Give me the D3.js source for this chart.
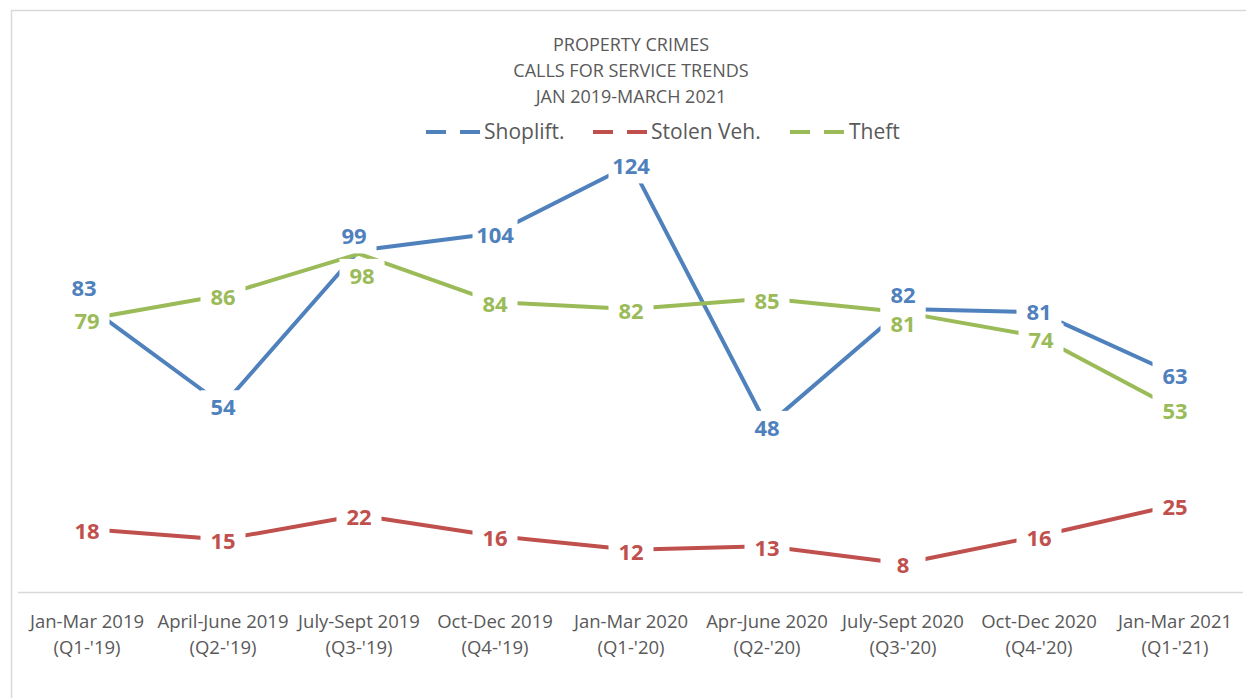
<!DOCTYPE html>
<html>
<head>
<meta charset="utf-8">
<script src="https://cdn.jsdelivr.net/npm/d3@7"></script>
<style>
  body { margin: 0; background: #fff; }
  svg { display: block; font-family: "Open Sans", "Noto Sans", sans-serif; }
</style>
</head>
<body>
<div id="chart"></div>
<script>
const width = 1246;
const height = 698;

const titleLines = ["PROPERTY CRIMES", "CALLS FOR SERVICE TRENDS", "JAN 2019-MARCH 2021"];

const quarters = [
  "Jan-Mar 2019", "April-June 2019", "July-Sept 2019", "Oct-Dec 2019", "Jan-Mar 2020",
  "Apr-June 2020", "July-Sept 2020", "Oct-Dec 2020", "Jan-Mar 2021"
];
const quarterCodes = [
  "(Q1-'19)", "(Q2-'19)", "(Q3-'19)", "(Q4-'19)", "(Q1-'20)",
  "(Q2-'20)", "(Q3-'20)", "(Q4-'20)", "(Q1-'21)"
];

const seriesNames = ["Shoplift.", "Stolen Veh.", "Theft"];
const shoplift = [83, 54, 99, 104, 124, 48, 82, 81, 63];
const stolenVeh = [18, 15, 22, 16, 12, 13, 8, 16, 25];
const theft = [79, 86, 98, 84, 82, 85, 81, 74, 53];

const colors = ["#4f81bd", "#c0504d", "#9bbb59"];
const series = [shoplift, stolenVeh, theft].map((values, i) => ({
  name: seriesNames[i],
  color: colors[i],
  values
}));

// labels that were dragged off their point in the original
const labelShift = {
  "0-0": [-3, -19],
  "0-2": [-5, -16],
  "0-6": [0, -16],
  "0-7": [0, -2],
  "2-2": [3, 20],
  "2-6": [0, 10],
  "2-7": [2, 2]
};

const svg = d3.select("#chart")
  .append("svg")
  .attr("width", width)
  .attr("height", height);

// chart frame (runs off the right and bottom edge)
svg.append("rect")
  .attr("x", 11.5)
  .attr("y", 10.5)
  .attr("width", 1400)
  .attr("height", 900)
  .attr("fill", "none")
  .attr("stroke", "#d9d9d9")
  .attr("stroke-width", 1.5);

// title
svg.append("g")
  .selectAll("text")
  .data(titleLines)
  .join("text")
  .attr("x", 631)
  .attr("y", (d, i) => 45 + i * 26)
  .attr("dy", "0.35em")
  .attr("text-anchor", "middle")
  .attr("fill", "#595959")
  .style("font-size", "18px")
  .text((d) => d);

const xScale = d3.scalePoint()
  .domain(quarters)
  .range([19, 1243])
  .padding(0.5);

const yScale = d3.scaleLinear()
  .domain([0, 140])
  .range([591, 109.4]);

// x axis
svg.append("line")
  .attr("x1", 18)
  .attr("x2", 1243)
  .attr("y1", 592.5)
  .attr("y2", 592.5)
  .attr("stroke", "#d9d9d9")
  .attr("stroke-width", 1.5);

const xLabels = svg.append("g")
  .selectAll("text")
  .data(quarters)
  .join("text")
  .attr("text-anchor", "middle")
  .attr("fill", "#595959")
  .style("font-size", "18.5px");
xLabels.append("tspan").attr("x", (d) => xScale(d)).attr("y", 622).attr("dy", "0.35em").text((d) => d);
xLabels.append("tspan").attr("x", (d) => xScale(d)).attr("y", 648).attr("dy", "0.35em").text((d, i) => quarterCodes[i]);

// lines
const line = d3.line()
  .x((d, i) => xScale(quarters[i]))
  .y((d) => yScale(d));

svg.append("g")
  .selectAll("path")
  .data(series)
  .join("path")
  .attr("d", (s) => line(s.values))
  .attr("fill", "none")
  .attr("stroke", (s) => s.color)
  .attr("stroke-width", 4)
  .attr("stroke-linejoin", "round");

// data labels sit in fixed-size white boxes; all boxes first, then all texts
const boxW = 45;
const boxH = 34;
const labels = [];
series.forEach((s, si) => {
  s.values.forEach((v, i) => {
    const shift = labelShift[`${si}-${i}`] || [0, 0];
    labels.push({
      v,
      color: s.color,
      cx: xScale(quarters[i]) + shift[0],
      cy: yScale(v) + shift[1] + 2
    });
  });
});

svg.append("g")
  .selectAll("rect")
  .data(labels)
  .join("rect")
  .attr("x", (d) => d.cx - boxW / 2)
  .attr("y", (d) => d.cy - boxH / 2)
  .attr("width", boxW)
  .attr("height", boxH)
  .attr("fill", "#fff");

svg.append("g")
  .selectAll("text")
  .data(labels)
  .join("text")
  .attr("x", (d) => d.cx)
  .attr("y", (d) => d.cy)
  .attr("dy", "0.36em")
  .attr("text-anchor", "middle")
  .attr("fill", (d) => d.color)
  .style("font-size", "22px")
  .style("font-weight", "bold")
  .text((d) => d.v);

// legend
const legendItems = [
  { x: 426, textX: 484 },
  { x: 593, textX: 651 },
  { x: 790, textX: 849 }
];
const legend = svg.append("g");
series.forEach((s, i) => {
  const it = legendItems[i];
  legend.append("line")
    .attr("x1", it.x)
    .attr("x2", it.x + 54)
    .attr("y1", 132)
    .attr("y2", 132)
    .attr("stroke", s.color)
    .attr("stroke-width", 4)
    .attr("stroke-dasharray", "20 14");
  legend.append("text")
    .attr("x", it.textX)
    .attr("y", 132)
    .attr("dy", "0.35em")
    .attr("fill", "#595959")
    .style("font-size", "21px")
    .text(s.name);
});
</script>
</body>
</html>
